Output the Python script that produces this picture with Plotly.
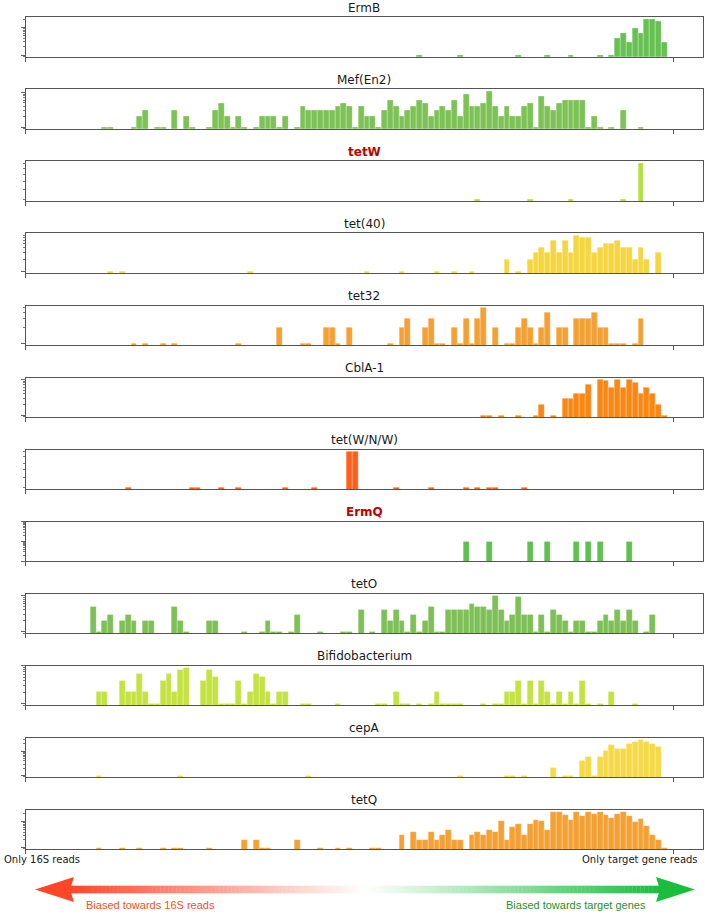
import math
import plotly.graph_objects as go

# ---------------- data ----------------
GENES = ["ErmB", "Mef(En2)", "tetW", "tet(40)", "tet32", "CblA-1",
         "tet(W/N/W)", "ErmQ", "tetO", "Bifidobacterium", "cepA", "tetQ"]
HIGHLIGHTED = ["tetW", "ErmQ"]

# histogram bins: 110 bins of width 0.009 starting at 0.01 (bin index -> count)
BIN_START = 0.01
BIN_WIDTH = 0.009

ERMB = {66: 1, 73: 1, 83: 1, 88: 1, 92: 1, 97: 1, 99: 1, 100: 4, 101: 6, 102: 3,
        103: 9, 104: 6, 105: 19, 106: 20, 107: 17, 108: 3}
MEF_EN2 = {12: 1, 13: 1, 17: 1, 18: 2, 19: 3, 21: 1, 22: 1, 24: 3, 26: 2, 27: 1,
           30: 1, 31: 3, 32: 5, 33: 2, 34: 1, 35: 2, 36: 1, 38: 1, 39: 2, 40: 2,
           41: 2, 42: 1, 43: 2, 45: 1, 46: 4, 47: 3, 48: 3, 49: 3, 50: 3, 51: 3,
           52: 4, 53: 5, 54: 4, 55: 1, 56: 4, 57: 2, 58: 2, 59: 1, 60: 3, 61: 6,
           62: 4, 63: 2, 64: 3, 65: 4, 66: 6, 67: 5, 68: 2, 69: 3, 70: 4, 71: 3,
           72: 6, 73: 2, 74: 9, 75: 4, 76: 4, 77: 5, 78: 11, 79: 4, 80: 2, 81: 4,
           82: 2, 83: 2, 84: 4, 85: 5, 86: 1, 87: 8, 88: 4, 89: 3, 90: 5, 91: 6,
           92: 6, 93: 6, 94: 6, 95: 1, 96: 2, 97: 1, 99: 1, 101: 3, 104: 1}
TETW = {76: 1, 85: 1, 92: 1, 101: 1, 104: 2}
TET40 = {13: 1, 15: 1, 37: 1, 57: 1, 63: 1, 69: 1, 72: 1, 75: 1, 81: 2, 83: 1,
         85: 2, 86: 3, 87: 4, 88: 3, 89: 6, 90: 3, 91: 6, 92: 3, 93: 8, 94: 7,
         95: 7, 96: 3, 97: 4, 98: 5, 99: 5, 100: 6, 101: 4, 102: 4, 103: 2,
         104: 4, 105: 2, 107: 3}
TET32 = {17: 1, 19: 1, 22: 1, 24: 1, 35: 1, 42: 2, 46: 1, 47: 1, 50: 2, 51: 2,
         52: 1, 54: 2, 61: 1, 63: 2, 64: 3, 67: 2, 68: 3, 69: 1, 70: 1, 72: 2,
         73: 1, 74: 3, 75: 1, 76: 3, 77: 5, 79: 2, 81: 1, 82: 1, 83: 2, 84: 3,
         85: 2, 86: 1, 87: 2, 88: 4, 90: 2, 91: 2, 93: 3, 94: 3, 95: 3, 96: 4,
         97: 2, 98: 2, 99: 1, 100: 1, 101: 1, 103: 1, 104: 3}
CBLA1 = {77: 1, 78: 1, 80: 1, 83: 1, 86: 1, 87: 2, 89: 1, 91: 3, 92: 3, 93: 4,
         94: 4, 95: 7, 97: 10, 98: 9, 99: 6, 100: 10, 101: 6, 102: 10, 103: 8,
         104: 4, 105: 6, 106: 4, 107: 2, 108: 1}
TETWNW = {16: 1, 27: 1, 28: 1, 32: 1, 35: 1, 43: 1, 48: 1, 54: 2, 55: 2, 62: 1,
          68: 1, 74: 1, 76: 1, 78: 1, 79: 1, 84: 1}
ERMQ = {74: 1, 78: 1, 85: 1, 88: 1, 93: 1, 95: 1, 97: 1, 102: 1}
TETO = {10: 5, 11: 1, 12: 2, 13: 3, 15: 2, 16: 3, 17: 2, 19: 2, 20: 2, 24: 5,
        25: 2, 26: 1, 30: 2, 31: 2, 36: 1, 39: 1, 40: 2, 41: 1, 42: 1, 44: 1,
        45: 3, 49: 1, 53: 1, 54: 1, 56: 4, 58: 1, 60: 4, 61: 2, 62: 4, 63: 2,
        64: 1, 65: 3, 66: 1, 67: 2, 68: 5, 69: 1, 70: 1, 71: 4, 72: 4, 73: 4,
        74: 4, 75: 6, 76: 5, 77: 5, 78: 4, 79: 10, 80: 4, 81: 2, 82: 3, 83: 9,
        84: 3, 85: 3, 86: 1, 87: 3, 88: 1, 89: 4, 90: 3, 91: 2, 92: 1, 93: 2,
        94: 2, 95: 1, 96: 1, 97: 2, 98: 3, 99: 2, 100: 4, 101: 2, 102: 4, 103: 2,
        105: 1, 106: 3}
BIFIDOBACTERIUM = {11: 2, 12: 2, 15: 4, 16: 2, 17: 2, 18: 6, 19: 2, 20: 1, 21: 1,
                   22: 4, 23: 6, 24: 2, 25: 8, 26: 9, 29: 4, 30: 8, 31: 5, 32: 1,
                   33: 1, 34: 1, 35: 4, 36: 1, 37: 2, 38: 6, 39: 5, 40: 2, 41: 1,
                   42: 2, 43: 2, 46: 1, 47: 1, 52: 1, 59: 1, 60: 1, 62: 2, 63: 1,
                   64: 1, 66: 1, 68: 1, 69: 2, 70: 1, 71: 1, 72: 1, 73: 1, 77: 1,
                   79: 1, 80: 1, 81: 2, 82: 2, 83: 4, 84: 1, 85: 4, 86: 1, 87: 4,
                   88: 2, 89: 1, 90: 2, 91: 1, 92: 2, 93: 1, 94: 4, 95: 1, 97: 1,
                   99: 2, 103: 1}
CEPA = {11: 1, 25: 1, 47: 1, 73: 1, 81: 1, 82: 1, 84: 1, 89: 2, 91: 1, 92: 1,
        94: 4, 95: 6, 96: 1, 97: 6, 98: 10, 99: 18, 100: 12, 101: 13, 102: 20,
        103: 24, 104: 30, 105: 24, 106: 20, 107: 15}
TETQ = {11: 1, 15: 1, 18: 1, 22: 1, 24: 1, 25: 1, 30: 1, 36: 2, 38: 2, 39: 1,
        40: 1, 45: 2, 49: 1, 52: 1, 54: 1, 58: 1, 59: 1, 63: 3, 65: 4, 66: 2,
        67: 2, 68: 4, 69: 2, 70: 3, 71: 5, 72: 2, 73: 2, 75: 3, 76: 4, 77: 3,
        78: 5, 79: 4, 80: 11, 81: 2, 82: 6, 83: 8, 84: 3, 85: 8, 86: 12, 87: 11,
        88: 5, 89: 24, 90: 24, 91: 18, 92: 12, 93: 24, 94: 16, 95: 23, 96: 19,
        97: 23, 98: 18, 99: 14, 100: 19, 101: 24, 102: 16, 103: 10, 104: 13,
        105: 7, 106: 3, 107: 2, 108: 1}

SERIES = [ERMB, MEF_EN2, TETW, TET40, TET32, CBLA1, TETWNW, ERMQ, TETO,
          BIFIDOBACTERIUM, CEPA, TETQ]
COLORS = ["#66c152", "#7dc255", "#b4e03c", "#f5d640", "#f5a032", "#fa8714",
          "#ff5f19", "#5fc050", "#7dc055", "#c4e240", "#f5da46", "#f5a032"]

X_TICKS = [0, 1]
X_TICK_LABELS = ["Only 16S reads", "Only target gene reads"]
ARROW_LABELS = ["Biased towards 16S reads", "Biased towards target genes"]

# ---------------- layout helpers ----------------
W, H = 705, 915
X_LEFT_PX, X_RIGHT_PX, X_ONE_PX = 25.5, 703.0, 673.0
X_MAX = (X_RIGHT_PX - X_LEFT_PX) / (X_ONE_PX - X_LEFT_PX)
TOP0, PITCH, BOX_H = 17.3, 72.06, 39.5


def px_x(px):
    return px / W


def px_y(py):
    return 1 - py / H


def y_ticks(lo, hi):
    majors, minors = [], []
    for d in range(math.floor(lo) - 1, math.ceil(hi) + 1):
        for m in range(1, 10):
            v = m * 10 ** d
            lv = math.log10(v)
            if lo - 1e-9 <= lv <= hi + 1e-9:
                (majors if m == 1 else minors).append(v)
    if len(minors) < 2:
        minors = []
        v = 1.0
        while math.log10(v) <= hi + 1e-9:
            if math.log10(v) >= lo:
                minors.append(round(v, 2))
            v += 0.2
        majors = []
    return majors, minors


fig = go.Figure()
annotations = []
layout = {}
for i, (gene, data, color) in enumerate(zip(GENES, SERIES, COLORS)):
    n = i + 1
    sfx = "" if n == 1 else str(n)
    bins = sorted(data)
    xs = [BIN_START + BIN_WIDTH * (k + 0.5) for k in bins]
    ys = [data[k] for k in bins]
    fig.add_trace(go.Bar(
        x=xs, y=ys, width=BIN_WIDTH, marker=dict(
            color=color, line=dict(color="rgba(255,255,255,0.45)", width=0.6)),
        xaxis="x" + sfx, yaxis="y" + sfx, showlegend=False, hoverinfo="skip"))

    top = TOP0 + PITCH * i
    bot = top + BOX_H
    hi = math.log10(max(ys))
    lo = 0.0
    if hi - lo < 1e-9:
        rlo, rhi = -1.0, 1.0
    else:
        pad = 0.05 * (hi - lo)
        rlo, rhi = lo - pad, hi + pad
    majors, minors = y_ticks(rlo, rhi)

    layout["xaxis" + sfx] = dict(
        domain=[px_x(X_LEFT_PX), px_x(X_RIGHT_PX)], range=[0, X_MAX],
        anchor="y" + sfx, tickmode="array", tickvals=X_TICKS,
        ticks="outside", ticklen=4, tickwidth=1, tickcolor="#555",
        showticklabels=False, showline=True, mirror=True, linecolor="#555",
        linewidth=1, showgrid=False, zeroline=False, fixedrange=True)
    layout["yaxis" + sfx] = dict(
        domain=[px_y(bot), px_y(top)], type="log", range=[rlo, rhi],
        anchor="x" + sfx, tickmode="array", tickvals=majors,
        ticks="outside", ticklen=3.5, tickwidth=1, tickcolor="#666",
        minor=dict(tickmode="array", tickvals=minors, ticks="outside",
                   ticklen=2, tickwidth=0.8, tickcolor="#777"),
        showticklabels=False, showline=True, mirror=True, linecolor="#555",
        linewidth=1, showgrid=False, zeroline=False, fixedrange=True)

    hl = gene in HIGHLIGHTED
    annotations.append(dict(
        text=f"<b>{gene}</b>" if hl else gene, xref="paper", yref="paper",
        x=(px_x(X_LEFT_PX) + px_x(X_RIGHT_PX)) / 2, y=px_y(top - 9.5),
        xanchor="center", yanchor="middle", showarrow=False,
        font=dict(family="DejaVu Sans", size=12,
                  color="#c00000" if hl else "#1a1a1a")))

# bottom axis labels
annotations.append(dict(text=X_TICK_LABELS[0], xref="paper", yref="paper",
                        x=px_x(2), y=px_y(859), xanchor="left", yanchor="middle",
                        showarrow=False,
                        font=dict(family="DejaVu Sans", size=10, color="#1a1a1a")))
annotations.append(dict(text=X_TICK_LABELS[1], xref="paper", yref="paper",
                        x=px_x(700), y=px_y(859), xanchor="right", yanchor="middle",
                        showarrow=False,
                        font=dict(family="DejaVu Sans", size=10, color="#1a1a1a")))

# arrow labels
ARROW_FONT = "Liberation Sans, Arial, sans-serif"
annotations.append(dict(text=ARROW_LABELS[0], xref="paper", yref="paper",
                        x=px_x(84), y=px_y(905), xanchor="left", yanchor="middle",
                        showarrow=False,
                        font=dict(family=ARROW_FONT, size=11, color="#ec5424")))
annotations.append(dict(text=ARROW_LABELS[1], xref="paper", yref="paper",
                        x=px_x(648), y=px_y(905), xanchor="right", yanchor="middle",
                        showarrow=False,
                        font=dict(family=ARROW_FONT, size=11, color="#23902c")))

# gradient double arrow
shapes = []
LEFT_RGB = (255, 70, 40)
MID_RGB = (255, 255, 255)
RIGHT_RGB = (25, 190, 60)
SHAFT_X0, SHAFT_X1 = 70.0, 660.0
CY, SHAFT_HALF = 889.5, 3.8
N_SEG = 150
for s in range(N_SEG):
    t = (s + 0.5) / N_SEG
    if t < 0.5:
        u = t / 0.5
        c = [LEFT_RGB[j] + (MID_RGB[j] - LEFT_RGB[j]) * u for j in range(3)]
    else:
        u = (t - 0.5) / 0.5
        c = [MID_RGB[j] + (RIGHT_RGB[j] - MID_RGB[j]) * u for j in range(3)]
    xa = SHAFT_X0 + (SHAFT_X1 - SHAFT_X0) * s / N_SEG
    xb = SHAFT_X0 + (SHAFT_X1 - SHAFT_X0) * (s + 1) / N_SEG + 0.3
    col = "rgb(%d,%d,%d)" % tuple(int(round(v)) for v in c)
    shapes.append(dict(type="rect", xref="paper", yref="paper",
                       x0=px_x(xa), x1=px_x(xb), y0=px_y(CY + SHAFT_HALF),
                       y1=px_y(CY - SHAFT_HALF), line=dict(width=0),
                       fillcolor=col, layer="above"))


def head_path(tip, back, notch):
    pts = [(tip, CY), (back, CY - 12.5), (notch, CY), (back, CY + 12.5)]
    return "M " + " L ".join(f"{px_x(a):.5f},{px_y(b):.5f}" for a, b in pts) + " Z"


shapes.append(dict(type="path", xref="paper", yref="paper",
                   path=head_path(35, 74, 70), fillcolor="rgb(255,70,40)",
                   line=dict(width=0), layer="above"))
shapes.append(dict(type="path", xref="paper", yref="paper",
                   path=head_path(695, 656, 660), fillcolor="rgb(25,190,60)",
                   line=dict(width=0), layer="above"))

fig.update_layout(
    width=W, height=H, margin=dict(l=0, r=0, t=0, b=0),
    paper_bgcolor="white", plot_bgcolor="white", bargap=0,
    annotations=annotations, shapes=shapes, **layout)

fig.write_html(
    "out.html",
    config={"displayModeBar": False},
    post_script="document.body.style.margin='0';document.body.style.overflow='hidden';")
